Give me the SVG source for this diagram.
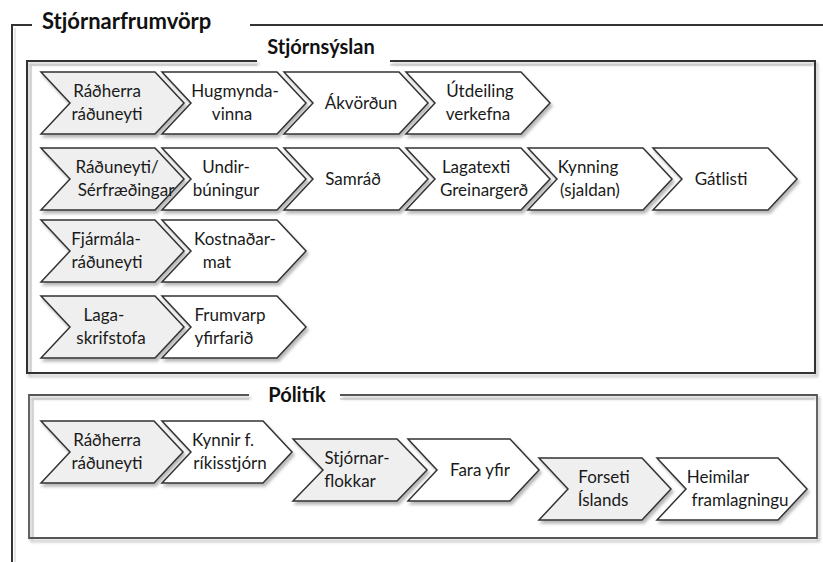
<svg xmlns="http://www.w3.org/2000/svg" width="823" height="562" viewBox="0 0 823 562">
<defs>
<filter id="sh" x="-10%" y="-10%" width="125%" height="135%">
<feDropShadow dx="2" dy="3" stdDeviation="1.4" flood-color="#000" flood-opacity="0.28"/>
</filter>
<style>
.chev{stroke:#333;stroke-width:1.5;stroke-linejoin:miter;filter:url(#sh)}
.g{fill:#efefef}
.w{fill:#ffffff}
.lbl{font-family:Lato,"Liberation Sans",sans-serif;font-size:17px;fill:#1a1a1a;text-anchor:middle}
.ttl{font-family:Lato,"Liberation Sans",sans-serif;font-weight:bold;fill:#111}
.frame{fill:none;stroke:#333;stroke-width:2}
.inner{fill:none;stroke:#bbb;stroke-width:1}
</style>
</defs>
<rect width="823" height="562" fill="#fff"/>

<g id="frame-stjornarfrumvorp">
<polyline class="frame" points="32,25 12,25 12,562"/>
<line class="frame" x1="250" y1="25" x2="823" y2="25"/>
<line x1="15" y1="28" x2="15" y2="562" stroke="#ccc" stroke-width="1"/>
<text class="ttl" x="42" y="29" font-size="22">Stjórnarfrumvörp</text>
</g>

<g id="box-stjornsyslan">
<polyline class="frame" points="257,61 27,61 27,373 815,373 815,61 390,61" stroke="#222" filter="url(#sh)"/>
<polyline class="inner" points="31,372 31,65 257,65"/>
<line class="inner" x1="390" y1="65" x2="812" y2="65"/>
<text class="ttl" x="321" y="54" font-size="20" text-anchor="middle">Stjórnsýslan</text>
</g>

<g id="box-politik">
<polyline points="249,395 29,395 29,538 817,538 817,395 340,395" fill="none" stroke="#555" stroke-width="1.8" filter="url(#sh)"/>
<polyline class="inner" points="33,537 33,399 249,399"/>
<line class="inner" x1="340" y1="399" x2="814" y2="399"/>
<text class="ttl" x="297" y="402" font-size="20" text-anchor="middle">Pólitík</text>
</g>

<!-- Row 1 -->
<g id="n-radherra1">
<polygon class="chev g" points="41,72 155,72 184,103 155,134 41,134 70,103"/>
<text class="lbl" x="107" y="97">Ráðherra</text>
<text class="lbl" x="107" y="120">ráðuneyti</text>
</g>
<g id="n-hugmyndavinna">
<polygon class="chev w" points="162,72 277,72 306,103 277,134 162,134 191,103"/>
<text class="lbl" x="235" y="97">Hugmynda-</text>
<text class="lbl" x="232" y="120">vinna</text>
</g>
<g id="n-akvordun">
<polygon class="chev w" points="284,72 399,72 428,103 399,134 284,134 313,103"/>
<text class="lbl" x="361" y="109">Ákvörðun</text>
</g>
<g id="n-utdeiling">
<polygon class="chev w" points="406,72 521,72 550,103 521,134 406,134 435,103"/>
<text class="lbl" x="480" y="97">Útdeiling</text>
<text class="lbl" x="478" y="120">verkefna</text>
</g>

<!-- Row 2 -->
<g id="n-raduneyti-serfr">
<polygon class="chev g" points="41,148 155,148 184,179 155,210 41,210 70,179"/>
<text class="lbl" x="117" y="173">Ráðuneyti/</text>
<text class="lbl" x="126" y="196">Sérfræðingar</text>
</g>
<g id="n-undirbuningur">
<polygon class="chev w" points="162,148 277,148 306,179 277,210 162,210 191,179"/>
<text class="lbl" x="226" y="173">Undir-</text>
<text class="lbl" x="226" y="196">búningur</text>
</g>
<g id="n-samrad">
<polygon class="chev w" points="284,148 399,148 428,179 399,210 284,210 313,179"/>
<text class="lbl" x="353" y="185">Samráð</text>
</g>
<g id="n-lagatexti">
<polygon class="chev w" points="406,148 521,148 550,179 521,210 406,210 435,179"/>
<text class="lbl" x="476" y="173">Lagatexti</text>
<text class="lbl" x="484" y="196">Greinargerð</text>
</g>
<g id="n-kynning">
<polygon class="chev w" points="528,148 643,148 672,179 643,210 528,210 557,179"/>
<text class="lbl" x="588" y="173">Kynning</text>
<text class="lbl" x="590" y="196">(sjaldan)</text>
</g>
<g id="n-gatlisti">
<polygon class="chev w" points="653,148 768,148 797,179 768,210 653,210 682,179"/>
<text class="lbl" x="721" y="185">Gátlisti</text>
</g>

<!-- Row 3 -->
<g id="n-fjarmala">
<polygon class="chev g" points="41,220 155,220 184,251 155,282 41,282 70,251"/>
<text class="lbl" x="106" y="245">Fjármála-</text>
<text class="lbl" x="107" y="268">ráðuneyti</text>
</g>
<g id="n-kostnadarmat">
<polygon class="chev w" points="162,220 277,220 306,251 277,282 162,282 191,251"/>
<text class="lbl" x="235" y="245">Kostnaðar-</text>
<text class="lbl" x="217" y="268">mat</text>
</g>

<!-- Row 4 -->
<g id="n-lagaskrifstofa">
<polygon class="chev g" points="41,296 155,296 184,327 155,358 41,358 70,327"/>
<text class="lbl" x="104" y="321">Laga-</text>
<text class="lbl" x="111" y="344">skrifstofa</text>
</g>
<g id="n-frumvarp">
<polygon class="chev w" points="162,296 277,296 306,327 277,358 162,358 191,327"/>
<text class="lbl" x="230" y="321">Frumvarp</text>
<text class="lbl" x="224" y="344">yfirfarið</text>
</g>

<!-- Pólitík -->
<g id="n-radherra2">
<polygon class="chev g" points="41,421 154,421 183,452 154,483 41,483 70,452"/>
<text class="lbl" x="107" y="446">Ráðherra</text>
<text class="lbl" x="107" y="469">ráðuneyti</text>
</g>
<g id="n-kynnir">
<polygon class="chev w" points="162,421 263,421 292,452 263,483 162,483 191,452"/>
<text class="lbl" x="223" y="446">Kynnir f.</text>
<text class="lbl" x="230" y="469">ríkisstjórn</text>
</g>
<g id="n-stjornarflokkar">
<polygon class="chev g" points="293,439 397,439 427,470 397,501 293,501 323,470"/>
<text class="lbl" x="357" y="464">Stjórnar-</text>
<text class="lbl" x="350" y="487">flokkar</text>
</g>
<g id="n-farayfir">
<polygon class="chev w" points="408,439 510,439 539,470 510,501 408,501 437,470"/>
<text class="lbl" x="480" y="476">Fara yfir</text>
</g>
<g id="n-forseti">
<polygon class="chev g" points="539,458 642,458 671,489 642,520 539,520 568,489"/>
<text class="lbl" x="604" y="483">Forseti</text>
<text class="lbl" x="603" y="506">Íslands</text>
</g>
<g id="n-heimilar">
<polygon class="chev w" points="657,458 778,458 807,489 778,520 657,520 686,489"/>
<text class="lbl" x="718" y="483">Heimilar</text>
<text class="lbl" x="740" y="506" font-size="18">framlagningu</text>
</g>
</svg>
